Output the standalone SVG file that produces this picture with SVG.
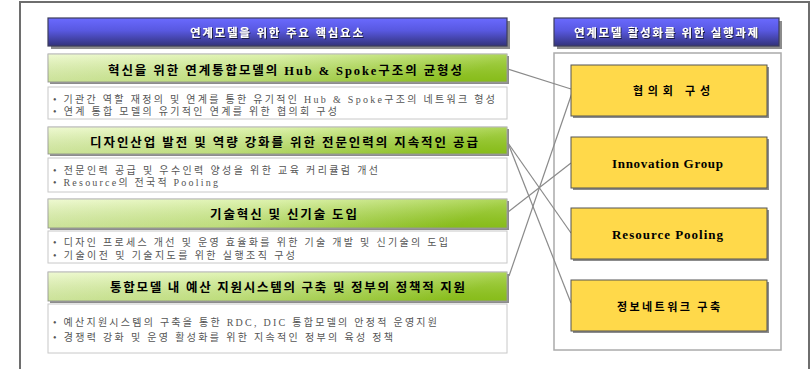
<svg xmlns="http://www.w3.org/2000/svg" width="812" height="369" viewBox="0 0 812 369">
<defs>
<linearGradient id="gBlue" x1="0" y1="0" x2="0" y2="1">
<stop offset="0" stop-color="#6a6aff"/>
<stop offset="0.45" stop-color="#5858e0"/>
<stop offset="1" stop-color="#32327a"/>
</linearGradient>
<linearGradient id="gGreen" x1="0" y1="0" x2="1" y2="0.15">
<stop offset="0" stop-color="#eaf8c4"/>
<stop offset="0.5" stop-color="#d2ee92"/>
<stop offset="1" stop-color="#92c81e"/>
</linearGradient>
<linearGradient id="gGreenV" x1="0" y1="0" x2="0" y2="1">
<stop offset="0" stop-color="#ffffff" stop-opacity="0.25"/>
<stop offset="1" stop-color="#4a7a00" stop-opacity="0.15"/>
</linearGradient>
<filter id="ts" x="-5%" y="-30%" width="110%" height="160%">
<feDropShadow dx="1" dy="1" stdDeviation="0" flood-color="#1a1a40" flood-opacity="1"/>
</filter>
</defs>
<style>
.frame{fill:#fff;stroke:#6e6e6e;stroke-width:2}
.shadow{fill:#8c8c8c}
.blue{fill:url(#gBlue);stroke:#3c3c5a;stroke-width:1.2}
.green{fill:url(#gGreen);stroke:#a0a0a0;stroke-width:1}
.white{fill:#fff;stroke:#c8c8c8;stroke-width:1}
.panel{fill:#fff;stroke:#ababab;stroke-width:1.5}
.yellow{fill:#ffd94a;stroke:#555;stroke-width:1}
.ht{font-family:"Liberation Sans","Noto Sans CJK KR",sans-serif;font-size:11.5px;font-weight:bold;fill:#fff;filter:url(#ts)}
.bt{font-family:"Liberation Serif","Noto Sans CJK KR",serif;font-size:12.5px;font-weight:bold;fill:#000}
.lt{font-family:"Liberation Serif","Noto Sans CJK KR",serif;font-size:10px;fill:#555}
.yt{font-family:"Liberation Serif","Noto Sans CJK KR",serif;font-size:11px;font-weight:bold;fill:#000}
.yl{font-size:13px}
.conn line{stroke:#8a8a8a;stroke-width:1.2}
</style>
<rect class="frame" x="20" y="2" width="789" height="380"/>

<g id="header-left">
<rect class="shadow" x="51" y="21" width="459" height="28"/>
<rect class="blue" x="48" y="18" width="459" height="28"/>
<text class="ht" x="190" y="37" textLength="173" lengthAdjust="spacing">연계모델을 위한 주요 핵심요소</text>
</g>
<g id="header-right">
<rect class="shadow" x="557" y="21" width="225" height="28"/>
<rect class="blue" x="554" y="18" width="225" height="28"/>
<text class="ht" x="574" y="37" textLength="184" lengthAdjust="spacing">연계모델 활성화를 위한 실행과제</text>
</g>

<g id="panel-right">
<rect class="panel" x="554" y="53" width="227" height="297"/>
</g>

<g id="item1">
<rect class="shadow" x="50" y="56" width="459" height="28"/>
<rect class="green" x="48" y="54" width="459" height="28"/>
<rect x="48" y="54" width="459" height="28" fill="url(#gGreenV)"/>
<text class="bt" x="108" y="75" textLength="354" lengthAdjust="spacing">혁신을 위한 연계통합모델의 Hub &amp; Spoke구조의 균형성</text>
</g>
<g id="item1-detail">
<rect class="white" x="48" y="87" width="459" height="32"/>
<text class="lt" x="53" y="103" textLength="442" lengthAdjust="spacing">• 기관간 역할 재정의 및 연계를 통한 유기적인 Hub &amp; Spoke구조의 네트워크 형성</text>
<text class="lt" x="53" y="114.5" textLength="284" lengthAdjust="spacing">• 연계 통합 모델의 유기적인 연계를 위한 협의회 구성</text>
</g>

<g id="item2">
<rect class="shadow" x="50" y="129" width="459" height="27"/>
<rect class="green" x="48" y="127" width="459" height="27"/>
<rect x="48" y="127" width="459" height="27" fill="url(#gGreenV)"/>
<text class="bt" x="90" y="147" textLength="388" lengthAdjust="spacing">디자인산업 발전 및 역량 강화를 위한 전문인력의 지속적인 공급</text>
</g>
<g id="item2-detail">
<rect class="white" x="48" y="158" width="459" height="34"/>
<text class="lt" x="53" y="174" textLength="325" lengthAdjust="spacing">• 전문인력 공급 및 우수인력 양성을 위한 교육 커리큘럼 개선</text>
<text class="lt" x="53" y="185.5" textLength="165" lengthAdjust="spacing">• Resource의 전국적 Pooling</text>
</g>

<g id="item3">
<rect class="shadow" x="50" y="201" width="459" height="29"/>
<rect class="green" x="48" y="199" width="459" height="29"/>
<rect x="48" y="199" width="459" height="29" fill="url(#gGreenV)"/>
<text class="bt" x="210" y="219" textLength="147" lengthAdjust="spacing">기술혁신 및 신기술 도입</text>
</g>
<g id="item3-detail">
<rect class="white" x="48" y="231" width="459" height="32"/>
<text class="lt" x="53" y="245.5" textLength="395" lengthAdjust="spacing">• 디자인 프로세스 개선 및 운영 효율화를 위한 기술 개발 및 신기술의 도입</text>
<text class="lt" x="53" y="259" textLength="242" lengthAdjust="spacing">• 기술이전 및 기술지도를 위한 실행조직 구성</text>
</g>

<g id="item4">
<rect class="shadow" x="50" y="274" width="459" height="29"/>
<rect class="green" x="48" y="272" width="459" height="29"/>
<rect x="48" y="272" width="459" height="29" fill="url(#gGreenV)"/>
<text class="bt" x="110" y="292" textLength="355" lengthAdjust="spacing">통합모델 내 예산 지원시스템의 구축 및 정부의 정책적 지원</text>
</g>
<g id="item4-detail">
<rect class="white" x="48" y="304" width="459" height="49"/>
<text class="lt" x="53" y="326" textLength="384" lengthAdjust="spacing">• 예산지원시스템의 구축을 통한 RDC, DIC 통합모델의 안정적 운영지원</text>
<text class="lt" x="53" y="341" textLength="340" lengthAdjust="spacing">• 경쟁력 강화 및 운영 활성화를 위한 지속적인 정부의 육성 정책</text>
</g>

<g id="connectors" class="conn">
<line x1="508" y1="69" x2="571" y2="89"/>
<line x1="572" y1="93" x2="509" y2="276"/>
<line x1="508" y1="143" x2="571" y2="233"/>
<line x1="508" y1="143" x2="571" y2="303"/>
<line x1="508" y1="212" x2="571" y2="163"/>
</g>

<g id="task1">
<rect class="shadow" x="573" y="67" width="196" height="51"/>
<rect class="yellow" x="571" y="65" width="196" height="51"/>
<text class="yt" x="633" y="95" textLength="77" lengthAdjust="spacing">협의회 구성</text>
</g>
<g id="task2">
<rect class="shadow" x="573" y="139" width="196" height="51"/>
<rect class="yellow" x="571" y="137" width="196" height="51"/>
<text class="yt yl" x="612" y="168" textLength="111" lengthAdjust="spacing">Innovation Group</text>
</g>
<g id="task3">
<rect class="shadow" x="573" y="210" width="196" height="51"/>
<rect class="yellow" x="571" y="208" width="196" height="51"/>
<text class="yt yl" x="612" y="239" textLength="111" lengthAdjust="spacing">Resource Pooling</text>
</g>
<g id="task4">
<rect class="shadow" x="573" y="282" width="196" height="51"/>
<rect class="yellow" x="571" y="280" width="196" height="51"/>
<text class="yt" x="617" y="311" textLength="103" lengthAdjust="spacing">정보네트워크 구축</text>
</g>
</svg>
